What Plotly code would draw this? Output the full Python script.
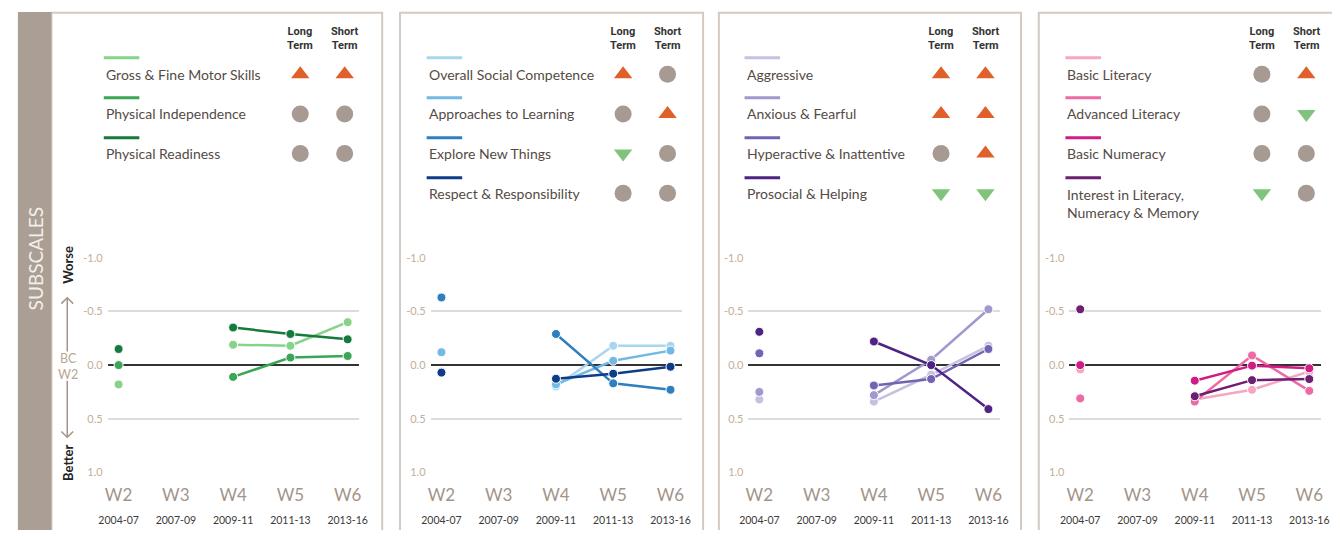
import plotly.graph_objects as go

W, H = 1340, 536

# ---------------- data ----------------
waves = ["W2", "W3", "W4", "W5", "W6"]
periods = ["2004-07", "2007-09", "2009-11", "2011-13", "2013-16"]

# Panel 1 - physical
p1_names = ["Gross & Fine Motor Skills", "Physical Independence", "Physical Readiness"]
p1_colors = ["#86d38a", "#3ba656", "#157a3c"]
gross_fine_motor = [0.18, None, -0.19, -0.18, -0.40]
physical_independence = [0.0, None, 0.11, -0.07, -0.085]
physical_readiness = [-0.15, None, -0.35, -0.29, -0.24]
p1_long = ["up", "same", "same"]
p1_short = ["up", "same", "same"]

# Panel 2 - social
p2_names = ["Overall Social Competence", "Approaches to Learning", "Explore New Things", "Respect & Responsibility"]
p2_colors = ["#a8d6ef", "#72b9e4", "#2f7fbf", "#0d3d87"]
overall_social = [0.06, None, 0.20, -0.18, -0.18]
approaches_learning = [-0.12, None, 0.18, -0.04, -0.135]
explore_new = [-0.63, None, -0.29, 0.17, 0.23]
respect_resp = [0.07, None, 0.127, 0.08, 0.015]
p2_long = ["up", "same", "down", "same"]
p2_short = ["same", "up", "same", "same"]

# Panel 3 - emotional
p3_names = ["Aggressive", "Anxious & Fearful", "Hyperactive & Inattentive", "Prosocial & Helping"]
p3_colors = ["#c5c1e1", "#9f99cd", "#7264b3", "#4e2383"]
aggressive = [0.32, None, 0.34, 0.09, -0.18]
anxious = [0.25, None, 0.28, -0.05, -0.52]
hyperactive = [-0.11, None, 0.19, 0.13, -0.15]
prosocial = [-0.31, None, -0.22, 0.0, 0.41]
p3_long = ["up", "up", "same", "down"]
p3_short = ["up", "up", "up", "down"]

# Panel 4 - language & cognitive
p4_names = ["Basic Literacy", "Advanced Literacy", "Basic Numeracy", "Interest in Literacy,<br>Numeracy & Memory"]
p4_colors = ["#f5a6c1", "#ee6aa4", "#d11c85", "#6e1f72"]
basic_literacy = [0.04, None, 0.32, 0.23, 0.06]
advanced_literacy = [0.31, None, 0.34, -0.09, 0.24]
basic_numeracy = [0.0, None, 0.145, 0.005, 0.03]
interest_lnm = [-0.52, None, 0.29, 0.14, 0.13]
p4_long = ["same", "same", "same", "down"]
p4_short = ["up", "down", "same", "same"]

y_ticks = [-1.0, -0.5, 0.0, 0.5, 1.0]
y_ticktext = ["-1.0", "-0.5", "0.0", "0.5", "1.0"]

panels = [
    (p1_names, p1_colors, [gross_fine_motor, physical_independence, physical_readiness], p1_long, p1_short),
    (p2_names, p2_colors, [overall_social, approaches_learning, explore_new, respect_resp], p2_long, p2_short),
    (p3_names, p3_colors, [aggressive, anxious, hyperactive, prosocial], p3_long, p3_short),
    (p4_names, p4_colors, [basic_literacy, advanced_literacy, basic_numeracy, interest_lnm], p4_long, p4_short),
]

# ---------------- layout constants (pixels) ----------------
plot_x0 = [100, 427, 749, 1074]
plot_w = 255
plot_top, plot_bot = 257, 477
boxes = [(43, 378), (396, 703), (719, 1025), (1043, 1352)]
box_top = 6

FONT = "Lato, 'Open Sans', sans-serif"
NARROW = "'Liberation Sans Narrow', 'Arial Narrow', 'Roboto', sans-serif"
trend_sym = {"up": "triangle-up", "same": "circle", "down": "triangle-down"}
trend_col = {"up": "#e0602a", "same": "#a69a92", "down": "#80c47c"}
trend_size = {"up": 16, "same": 17, "down": 16}

fig = go.Figure()
xt = list(range(len(waves)))
ticktext_x = [f"{w}<br><span style='font-size:10.5px;color:#3a3a3a'>{p}</span>" for w, p in zip(waves, periods)]

shapes = []
annotations = []

for i, (names, colors, series, longs, shorts) in enumerate(panels):
    ax = "" if i == 0 else str(i + 1)
    for name, col, vals in zip(names, colors, series):
        fig.add_trace(go.Scatter(
            x=xt, y=vals, mode="lines+markers", name=name.replace("<br>", " "),
            line=dict(color=col, width=2.5),
            marker=dict(size=9, color=col, line=dict(color="white", width=1)),
            connectgaps=False, showlegend=False, cliponaxis=False,
            xaxis="x" + ax, yaxis="y" + ax,
        ))
    x0 = plot_x0[i]
    fig.update_layout(**{
        "xaxis" + ax: dict(
            domain=[x0 / W, (x0 + plot_w) / W], anchor="y" + ax,
            range=[-11 / 58, 4 + 12 / 58], tickvals=xt, ticktext=ticktext_x,
            showgrid=False, zeroline=False, showline=False, ticks="",
            ticklabelstandoff=11,
            tickfont=dict(family=FONT, size=17, color="#a39489"), fixedrange=True,
        ),
        "yaxis" + ax: dict(
            domain=[1 - plot_bot / H, 1 - plot_top / H], anchor="x" + ax,
            range=[1, -1], tickvals=y_ticks, ticktext=y_ticktext,
            showgrid=True, gridcolor="#dcdcdc", gridwidth=2,
            zeroline=True, zerolinecolor="#333333", zerolinewidth=2,
            showline=False, ticks="", ticklabelstandoff=4,
            tickfont=dict(family=FONT, size=11, color="#c2ae9b"), fixedrange=True,
        ),
    })

    # panel border
    bx0, bx1 = boxes[i]
    shapes.append(dict(type="path", xref="x5", yref="y5",
                       path=f"M{bx0},{H + 5} L{bx0},{box_top} L{bx1},{box_top} L{bx1},{H + 5}",
                       line=dict(color="#d2cac3", width=2), layer="below"))

    # legend block
    lx = x0 - 4
    colL, colS = x0 + 195, x0 + 240
    for hx, word in ((colL, "Long"), (colS, "Short")):
        annotations.append(dict(xref="x5", yref="y5", x=hx, y=32, showarrow=False,
                                text=f"<b>{word}<br>Term</b>",
                                font=dict(family=NARROW, size=11, color="#333333")))
    sym_x, sym_y, syms, cols, sizes = [], [], [], [], []
    for r, (name, col, lt, st) in enumerate(zip(names, colors, longs, shorts)):
        ly = 52 + 41 * r
        ty = 69 + 40.6 * r
        shapes.append(dict(type="line", xref="x5", yref="y5", x0=lx, x1=lx + 36, y0=ly, y1=ly,
                           line=dict(color=col, width=3)))
        multi = "<br>" in name
        annotations.append(dict(xref="x5", yref="y5", x=lx, y=(ty - 9 if multi else ty),
                                xanchor="left", yanchor=("top" if multi else "middle"),
                                showarrow=False, text=name, align="left",
                                font=dict(family=FONT, size=14, color="#544b45")))
        for cx, t in ((colL, lt), (colS, st)):
            sym_x.append(cx)
            sym_y.append(ty)
            syms.append(trend_sym[t])
            cols.append(trend_col[t])
            sizes.append(trend_size[t])
    fig.add_trace(go.Scatter(x=sym_x, y=sym_y, mode="markers", showlegend=False,
                             marker=dict(symbol=syms, color=cols, size=sizes, opacity=1,
                                         line=dict(width=0)),
                             xaxis="x5", yaxis="y5", hoverinfo="skip"))

# overlay pixel axis
fig.update_layout(
    xaxis5=dict(domain=[0, 1], range=[0, W], visible=False, fixedrange=True, anchor="y5"),
    yaxis5=dict(domain=[0, 1], range=[H, 0], visible=False, fixedrange=True, anchor="x5"),
)

# sidebar
shapes.append(dict(type="rect", xref="x5", yref="y5", x0=9, x1=43, y0=box_top - 1, y1=H + 5,
                   fillcolor="#ab9e95", line=dict(width=0), layer="below"))
annotations.append(dict(xref="x5", yref="y5", x=27, y=258, text="SUBSCALES", textangle=-90,
                        showarrow=False, font=dict(family=FONT, size=19, color="#f3efea")))

# worse / better guide
annotations.append(dict(xref="x5", yref="y5", x=59, y=264, text="<b>Worse</b>", textangle=-90,
                        showarrow=False, font=dict(family=FONT, size=13, color="#222222")))
annotations.append(dict(xref="x5", yref="y5", x=59, y=467, text="<b>Better</b>", textangle=-90,
                        showarrow=False, font=dict(family=FONT, size=13, color="#222222")))
annotations.append(dict(xref="x5", yref="y5", x=60, y=368, text="BC<br>W2",
                        showarrow=False, font=dict(family=FONT, size=12.5, color="#b9a693")))
arrow_line = dict(color="#a0958c", width=1.5)
shapes.append(dict(type="path", xref="x5", yref="y5", path="M59,353 L59,298", line=arrow_line))
shapes.append(dict(type="path", xref="x5", yref="y5", path="M53,304 L59,298 L65,304", line=arrow_line))
shapes.append(dict(type="path", xref="x5", yref="y5", path="M59,383 L59,441", line=arrow_line))
shapes.append(dict(type="path", xref="x5", yref="y5", path="M53,435 L59,441 L65,435", line=arrow_line))

fig.update_layout(
    width=W, height=H, margin=dict(l=0, r=0, t=0, b=0),
    paper_bgcolor="white", plot_bgcolor="rgba(0,0,0,0)",
    shapes=shapes, annotations=annotations, showlegend=False,
    font=dict(family=FONT),
)

fig.write_html(
    "out.html",
    config={"displayModeBar": False},
    post_script=("document.documentElement.style.margin='0';document.documentElement.style.padding='0';"
                 "document.body.style.margin='0';document.body.style.padding='0';"
                 "document.body.style.overflow='hidden';window.scrollTo(0,0);"),
)
